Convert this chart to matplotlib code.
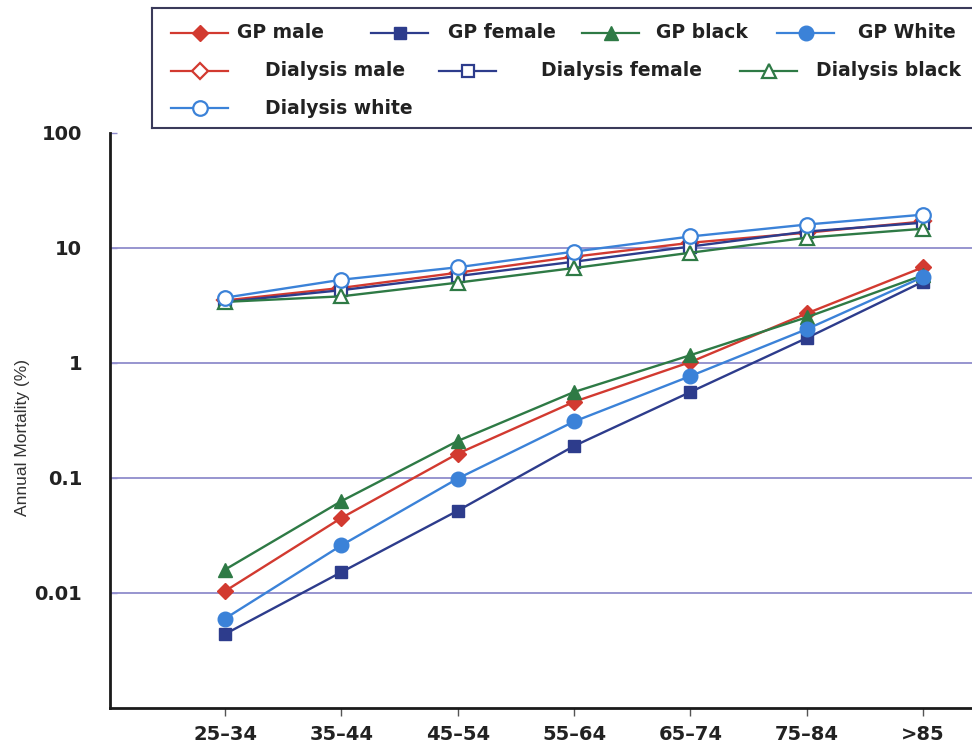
import matplotlib
matplotlib.use("Agg")
import matplotlib.pyplot as plt
import numpy as np

age_groups = ["25\u201334", "35\u201344", "45\u201354", "55\u201364", "65\u201374", "75\u201384", ">85"]

gp_male = [0.0104, 0.045, 0.163, 0.46, 1.02, 2.7, 6.8]
gp_female = [0.0044, 0.0152, 0.052, 0.19, 0.56, 1.65, 5.1]
gp_black = [0.016, 0.063, 0.21, 0.56, 1.17, 2.5, 5.8]
gp_white = [0.006, 0.026, 0.099, 0.31, 0.77, 1.97, 5.6]

dial_male = [3.5, 4.5, 6.1, 8.4, 11.1, 13.6, 17.0]
dial_female = [3.4, 4.3, 5.7, 7.6, 10.3, 13.9, 16.6]
dial_black = [3.4, 3.8, 5.0, 6.7, 9.1, 12.3, 14.7]
dial_white = [3.7, 5.3, 6.8, 9.3, 12.6, 16.0, 19.5]

y_ticks = [0.01, 0.1, 1, 10, 100]
y_ticklabels = ["0.01", "0.1", "1", "10", "100"]
grid_levels = [0.01, 0.1, 1, 10]

red = "#d23a30"
navy = "#2d3c8c"
green = "#2e7a45"
blue = "#3b82d8"

# (label, values, colour, marker, size, filled)
series = [
    ("GP male", gp_male, red, "D", 8.5, True),
    ("GP female", gp_female, navy, "s", 8.5, True),
    ("GP black", gp_black, green, "^", 10.5, True),
    ("GP White", gp_white, blue, "o", 10.5, True),
    ("Dialysis male", dial_male, red, "D", 8.5, False),
    ("Dialysis female", dial_female, navy, "s", 8.5, False),
    ("Dialysis black", dial_black, green, "^", 10.5, False),
    ("Dialysis white", dial_white, blue, "o", 10.5, False),
]
draw_order = [1, 3, 0, 2, 5, 4, 6, 7]

fig = plt.figure(figsize=(9.72, 7.45), dpi=100)
W, H = 972, 745
ax = fig.add_axes([110 / W, 1 - 708 / H, 1 - 110 / W, (708 - 133) / H])

x = np.arange(len(age_groups))
for lvl in grid_levels:
    ax.axhline(lvl, color="#8f8ccc", lw=1.3, zorder=1)

def style(col, filled):
    return dict(color=col, markerfacecolor=col if filled else "white",
                markeredgecolor=col, markeredgewidth=1.6 if not filled else 1.0)

for i in draw_order:
    lab, vals, col, mk, ms, filled = series[i]
    ax.plot(x, vals, marker=mk, ms=ms, lw=1.7, zorder=3 + i * 0.1,
            **style(col, filled))

ax.set_yscale("log")
ax.set_ylim(0.001, 100)
ax.set_xlim(-0.99, 6.42)
ax.set_yticks(y_ticks)
ax.set_yticklabels(y_ticklabels)
ax.minorticks_off()
ax.set_xticks(x)
ax.set_xticklabels(age_groups)
for s in ["top", "right"]:
    ax.spines[s].set_visible(False)
for s in ["left", "bottom"]:
    ax.spines[s].set_linewidth(2.0)
    ax.spines[s].set_color("#1a1a1a")
ax.tick_params(axis="y", direction="in", length=5, width=1, pad=20, colors="#8f8ccc",
               labelcolor="#222222")
ax.tick_params(axis="x", direction="out", length=6, width=1, pad=6, color="#555555",
               labelcolor="#222222")
for t in ax.get_yticklabels() + ax.get_xticklabels():
    t.set_fontweight("bold")
    t.set_fontsize(14)
ax.set_ylabel("Annual Mortality (%)", fontsize=12.5, family="Liberation Sans",
              color="#333333")
ax.yaxis.set_label_coords(-80 / (W - 110), 0.47)

# legend box drawn in pixel-like coordinates
lax = fig.add_axes([152 / W, 1 - 128 / H, 1 - 152 / W + 0.01, 120 / H])
lax.set_xlim(152, 152 + (W - 152 + 0.01 * W))
lax.set_ylim(128, 8)
lax.set_xticks([])
lax.set_yticks([])
for s in lax.spines.values():
    s.set_color("#3a3a5a")
    s.set_linewidth(1.5)

leg_marker_x = [200, 400, 611, 806, 200, 468, 769, 200]
leg_text_x = [237, 448, 656, 858, 265, 541, 816, 265]
leg_row_y = [33, 33, 33, 33, 71, 71, 71, 108]
for i, (lab, vals, col, mk, ms, filled) in enumerate(series):
    mx, ty, tx = leg_marker_x[i], leg_row_y[i], leg_text_x[i]
    lax.plot([mx - 29, mx + 28], [ty, ty], color=col, lw=1.6)
    lax.plot([mx], [ty], marker=mk, ms=ms, ls="none", **style(col, filled))
    lax.text(tx, ty, lab, va="center", ha="left", fontsize=13.5, fontweight="bold",
             color="#222222")

fig.savefig("out.png", dpi=100)
